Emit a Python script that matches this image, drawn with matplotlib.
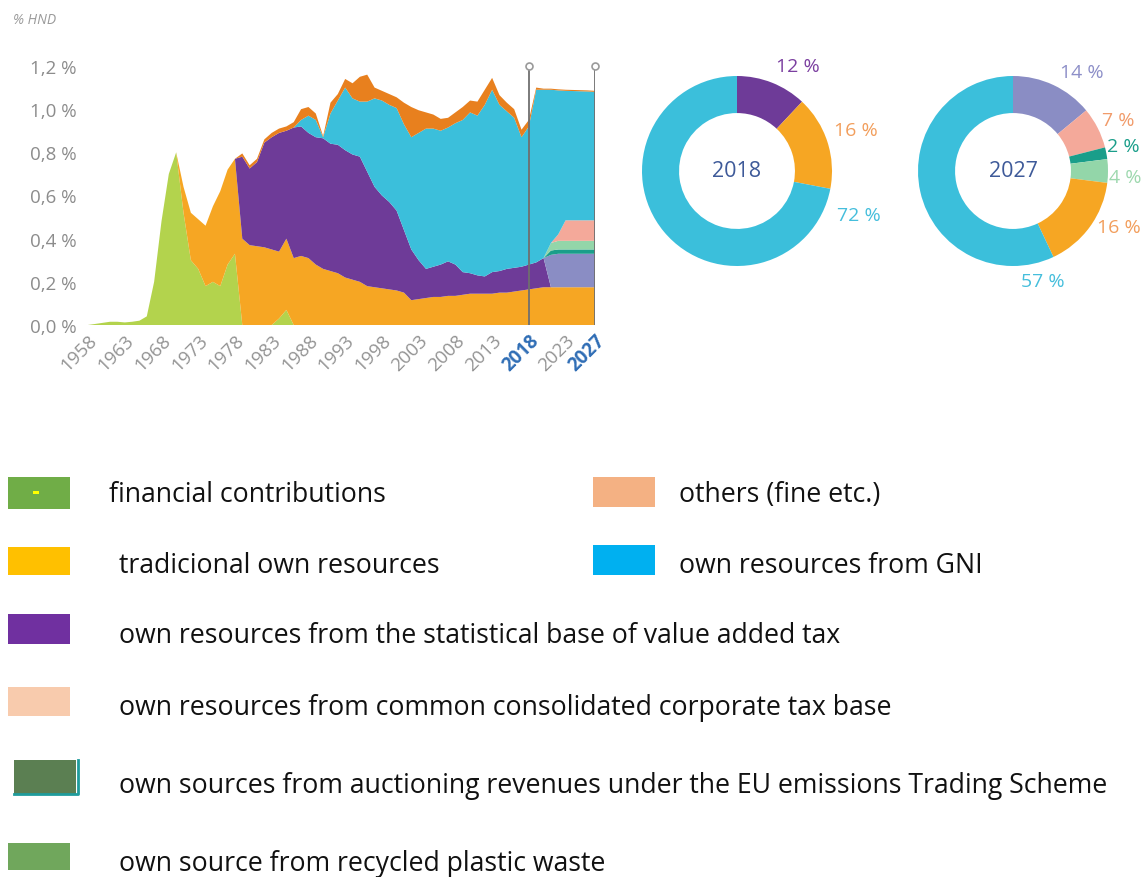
import numpy as np
import matplotlib
matplotlib.use("Agg")
import matplotlib.pyplot as plt
from matplotlib.patches import Rectangle

plt.rcParams["font.family"] = ["Open Sans", "DejaVu Sans"]

# years of the stacked area chart
years = list(range(1958, 2028))

# layers (share of GNI, %), from the bottom of the stack upwards
financial = [0, .005, .01, .015, .015, .012, .015, .02, .04, .20, .48, .70, .80,
             .52, .30, .26, .18, .20, .18, .28, .33,
             0, 0, 0, 0, 0, .03, .07] + [0] * 42
traditional = [0] * 13 + [
    .12, .22, .23, .28, .35, .44, .44, .44,
    .40, .37, .365, .36, .35, .31, .33, .31, .32, .31, .28, .26, .25, .24, .22, .21, .20, .18,
    .175, .17, .165, .16, .15, .115, .12, .125, .13, .13, .135, .135, .14, .145, .145, .145,
    .145, .15, .15, .155, .16, .165, .17, .175,
    .175, .175, .175, .175, .175, .175, .175]
vat = [0] * 21 + [
    .38, .355, .39, .485, .52, .55, .50, .605, .60, .58, .59, .605, .59, .595, .59, .58, .58,
    .53, .465, .43, .405, .37, .29, .235, .18, .135, .14, .15, .16, .145, .105, .095, .085,
    .08, .10, .10, .11, .11, .11, .115, .12, .135] + [0] * 7
new_vat = [0] * 63 + [.15, .155, .155, .155, .155, .155, .155]
ets = [0] * 63 + [.02, .02, .02, .02, .02, .02, .02]
plastic = [0] * 63 + [.035, .04, .04, .04, .04, .04, .04]
ccctb = [0] * 63 + [0, .03, .095, .095, .095, .095, .095]
gni = [0] * 29 + [
    .03, .08, .08, .005, .14, .205, .29, .26, .255, .325, .41, .44, .45, .475, .49, .52,
    .59, .65, .64, .62, .62, .655, .705, .745, .74, .795, .845, .77, .73, .695, .60, .64,
    .80, .78, .71, .667, .60, .599, .598, .597, .595]
others = [0] * 21 + [
    .015, .015, .015, .015, .02, .02, .02, .025, .05, .04, .03, .005, .05, .03, .04, .07,
    .115, .125, .05, .045, .05, .05, .10, .14, .105, .075, .065, .055, .045, .05, .06, .055,
    .065, .07, .055, .045, .04, .04, .035, .03, .01, .005] + [.005] * 7

xtick_years = [1958, 1963, 1968, 1973, 1978, 1983, 1988, 1993, 1998, 2003, 2008, 2013, 2018, 2023, 2027]
ytick_vals = [0.0, 0.2, 0.4, 0.6, 0.8, 1.0, 1.2]
ytick_labels = ["0,0 %", "0,2 %", "0,4 %", "0,6 %", "0,8 %", "1,0 %", "1,2 %"]

# donuts
donut_2018 = [12, 16, 72]
donut_2027 = [14, 7, 2, 4, 16, 57]

area_colors = ["#b3d34d", "#f6a623", "#6e3b98", "#8a8dc4", "#1a9e8a",
               "#93d6a9", "#f4a99a", "#3bbfdb", "#e8801e"]

fig = plt.figure(figsize=(11.42, 8.78), dpi=100)

# ---- stacked area chart ----
ax = fig.add_axes([88 / 1142, 1 - 326 / 878, 507 / 1142, 259 / 878])
ax.stackplot(years, financial, traditional, vat, new_vat, ets, plastic, ccctb, gni, others,
             colors=area_colors, linewidth=0)
ax.set_xlim(1958, 2027)
ax.set_ylim(0, 1.2)
ax.plot([1958, 2027], [0, 0], color="#d0d0d0", lw=0.8, zorder=0.5)
ax.vlines([2018, 2027], 0, 1.2, color="#6f6f6f", lw=1.3, zorder=3)
ax.plot([2018, 2027], [1.2, 1.2], "o", ms=5, mfc="white", mec="#9a9a9a", mew=1.2,
        clip_on=False, zorder=4)
for s in ax.spines.values():
    s.set_visible(False)
ax.set_yticks(ytick_vals)
ax.set_yticklabels(ytick_labels, color="#8c8c8c", fontsize=13.5)
ax.set_xticks(xtick_years)
ax.set_xticklabels([str(y) for y in xtick_years], rotation=45, ha="right", va="top",
                   rotation_mode="anchor", fontsize=13.5, color="#939393")
for lab in ax.get_xticklabels():
    if lab.get_text() in ("2018", "2027"):
        lab.set_color("#2f6db5")
        lab.set_fontweight("bold")
ax.tick_params(length=0)
ax.tick_params(axis="y", pad=8)
ax.tick_params(axis="x", pad=4)


# ---- donuts ----
def donut(left_px, values, colors, label_colors, label_angles, year):
    dax = fig.add_axes([left_px / 1142, 1 - (172 + 95) / 878, 190 / 1142, 190 / 878])
    dax.pie(values, colors=colors, startangle=90, counterclock=False, radius=1,
            wedgeprops=dict(width=0.39, linewidth=0))
    dax.set_xlim(-1, 1)
    dax.set_ylim(-1, 1)
    dax.set_aspect("equal")
    dax.axis("off")
    for v, c, (a, r) in zip(values, label_colors, label_angles):
        dax.text(r * np.cos(np.radians(a)), r * np.sin(np.radians(a)), "%d %%" % v,
                 color=c, fontsize=14, ha="center", va="center", clip_on=False)
    dax.text(0, 0, year, ha="center", va="center", fontsize=15.5, color="#3e5a99")


donut(642, donut_2018, ["#6e3b98", "#f6a623", "#3bbfdb"],
      ["#7b3fa0", "#f29e5c", "#45bedc"],
      [(60, 1.28), (19, 1.32), (-20, 1.36)], "2018")
donut(918, donut_2027, ["#8a8dc4", "#f4a99a", "#1a9e8a", "#93d6a9", "#f6a623", "#3bbfdb"],
      ["#8d8fc8", "#f19b6a", "#1a9e8a", "#9dd8ae", "#f29e5c", "#45bedc"],
      [(55, 1.27), (26, 1.23), (13, 1.19), (-3, 1.18), (-28, 1.26), (-75, 1.2)], "2027")

# ---- legend / overlay in pixel coordinates ----
ov = fig.add_axes([0, 0, 1, 1], zorder=-1)
ov.set_xlim(0, 1142)
ov.set_ylim(878, 0)
ov.axis("off")
ov.text(13, 21, "% HND", fontsize=10, color="#9a9a9a", style="italic", va="center")

legend_labels = ["financial contributions", "tradicional own resources",
                 "own resources from the statistical base of value added tax",
                 "own resources from common consolidated corporate tax base",
                 "own sources from auctioning revenues under the EU emissions Trading Scheme",
                 "own source from recycled plastic waste"]
legend_colors = ["#70ad47", "#ffc000", "#7030a0", "#f8cbad", "#5b7f52", "#70a75c"]
legend_right_labels = ["others (fine etc.)", "own resources from GNI"]
legend_right_colors = ["#f4b183", "#00b0f0"]

patch_y = [494, 562, 630, 702, 778, 858]
patch_h = [32, 28, 30, 29, 35, 27]
text_y = [495, 566, 636, 708, 786, 864]
text_x = [109, 119, 119, 119, 119, 119]
for i, (lab, col) in enumerate(zip(legend_labels, legend_colors)):
    x0 = 14 if i == 4 else 8
    ov.add_patch(Rectangle((x0, patch_y[i] - patch_h[i] / 2), 62, patch_h[i], color=col, lw=0))
    ov.text(text_x[i], text_y[i], lab, fontsize=19.2, va="center", ha="left", color="#111111")
# teal border of the ETS swatch and the yellow dash in the first one
ov.plot([14, 78, 78], [patch_y[4] + patch_h[4] / 2, patch_y[4] + patch_h[4] / 2,
                       patch_y[4] - patch_h[4] / 2], color="#1f9c9c", lw=2)
ov.add_patch(Rectangle((33, 492), 6, 3, color="#ffff00", lw=0))

right_y = [493, 561]
right_text_y = [495, 566]
for y, ty, lab, col in zip(right_y, right_text_y, legend_right_labels, legend_right_colors):
    ov.add_patch(Rectangle((593, y - 15), 62, 30, color=col, lw=0))
    ov.text(679, ty, lab, fontsize=19.2, va="center", ha="left", color="#111111")

fig.savefig("out.png", dpi=100)
